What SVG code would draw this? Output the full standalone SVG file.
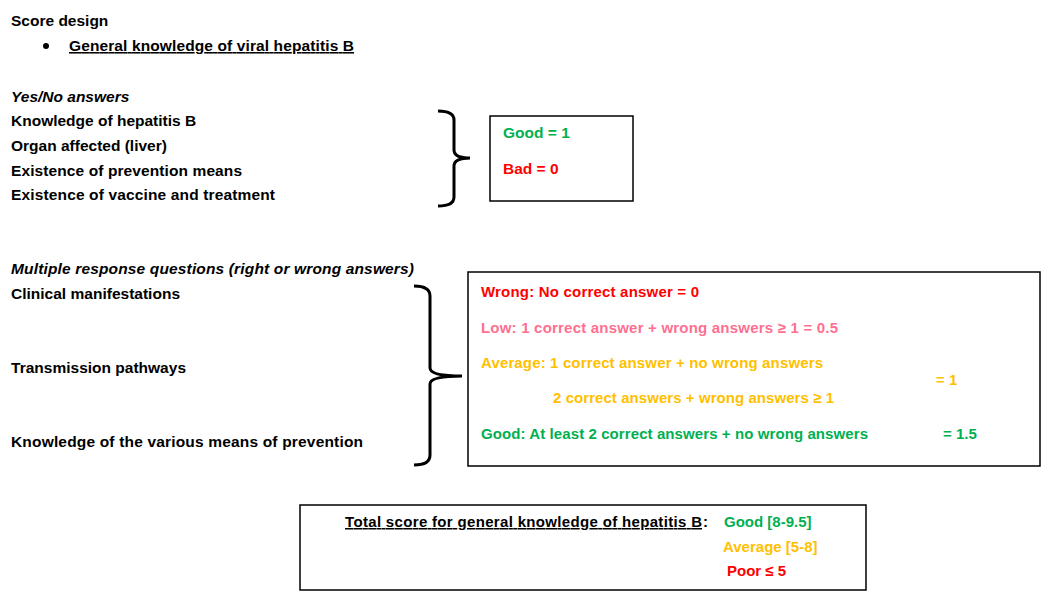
<svg xmlns="http://www.w3.org/2000/svg" width="1052" height="601" viewBox="0 0 1052 601">
<style>
text{font-family:"Liberation Sans",Arial,sans-serif;font-size:15.5px;font-weight:bold;fill:#000}
.s{font-size:15px}
.g{fill:#00B050}.r{fill:#FF0000}.p{fill:#FF6F91}.o{fill:#FFC000}
.i{font-style:italic}.u{text-decoration:underline}
.box{fill:#fff;stroke:#000;stroke-width:1.5}
.br{fill:none;stroke:#000;stroke-width:3}
</style>
<rect width="1052" height="601" fill="#fff"/>
<g id="header">
<text x="11" y="26">Score design</text>
<circle cx="46" cy="46" r="3" fill="#000"/>
<text x="69" y="51" class="u" textLength="285">General knowledge of viral hepatitis B</text>
</g>
<g id="yesno">
<text x="11" y="102" class="i">Yes/No answers</text>
<text x="11" y="126">Knowledge of hepatitis B</text>
<text x="11" y="151">Organ affected (liver)</text>
<text x="11" y="176" textLength="231">Existence of prevention means</text>
<text x="11" y="200" textLength="264">Existence of vaccine and treatment</text>
</g>
<g id="goodbad">
<rect class="box" x="490" y="116" width="143" height="85"/>
<text x="503" y="138" class="g">Good = 1</text>
<text x="503" y="174" class="r">Bad = 0</text>
</g>
<g id="multi">
<text x="11" y="274" class="i" textLength="403">Multiple response questions (right or wrong answers)</text>
<text x="11" y="299" textLength="169">Clinical manifestations</text>
<text x="11" y="373" textLength="175">Transmission pathways</text>
<text x="11" y="447" textLength="352">Knowledge of the various means of prevention</text>
</g>
<g id="scoring">
<rect class="box" x="468" y="272" width="572" height="194"/>
<text x="481" y="297" class="r s" textLength="218">Wrong: No correct answer = 0</text>
<text x="481" y="333" class="p s" textLength="357">Low: 1 correct answer + wrong answers ≥ 1 = 0.5</text>
<text x="481" y="368" class="o s" textLength="342">Average: 1 correct answer + no wrong answers</text>
<text x="553" y="403" class="o s" textLength="281">2 correct answers + wrong answers ≥ 1</text>
<text x="936" y="385" class="o s">= 1</text>
<text x="481" y="439" class="g s" textLength="387">Good: At least 2 correct answers + no wrong answers</text>
<text x="943" y="439" class="g s">= 1.5</text>
</g>
<g id="total">
<rect class="box" x="300" y="505" width="566" height="85"/>
<text x="345" y="527" class="u s" textLength="357">Total score for general knowledge of hepatitis B</text><text x="703" y="527" class="s">:</text>
<text x="724" y="527" class="g s">Good [8-9.5]</text>
<text x="723" y="552" class="o s">Average [5-8]</text>
<text x="727" y="576" class="r s">Poor ≤ 5</text>
</g>
<g id="connectors">
<path class="br" d="M438,111 Q454,111 454,120 L454,150 Q454,158 470,158 Q454,158 454,166 L454,197 Q454,206 438,206"/>
<path class="br" d="M414,286 Q430,286 430,296 L430,368 Q430,376 462,376 Q430,376 430,384 L430,455 Q430,465 414,465"/>
</g>
</svg>
